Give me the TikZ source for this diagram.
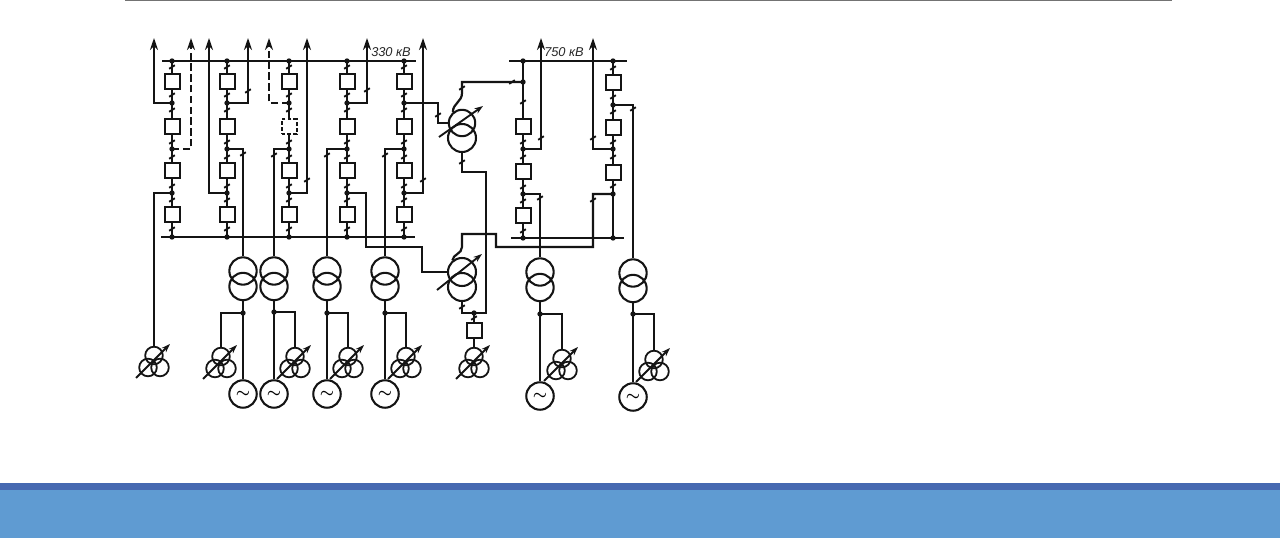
\documentclass[tikz,border=0pt]{standalone}
\usepackage{fontspec}
\setmainfont{Liberation Sans}
\usetikzlibrary{arrows.meta,backgrounds}
\definecolor{bandDark}{HTML}{4669B1}
\definecolor{bandLight}{HTML}{5F9BD2}
\tikzset{
  wire/.style={line width=1.65pt,black!92,line join=miter},
  bus/.style={line width=2.2pt,black!92},
  feeder/.style={wire,-{Stealth[length=9pt,width=6pt]}},
  dashfeeder/.style={feeder,dash pattern=on 5.5pt off 2.6pt},
  swbox/.style={draw=black!92,line width=1.5pt,fill=white,minimum size=11.25pt,inner sep=0pt},
  dashbox/.style={swbox,dash pattern=on 2.8pt off 1.6pt},
  winding/.style={circle,draw=black!92,line width=1.55pt,minimum size=20.5pt,inner sep=0pt},
  smallwinding/.style={circle,draw=black!92,line width=1.35pt,minimum size=13.2pt,inner sep=0pt},
  genr/.style={circle,draw=black!92,line width=1.55pt,fill=white,minimum size=20.6pt,inner sep=0pt,font=\large\boldmath},
  dot/.style={circle,fill=black!92,minimum size=4pt,inner sep=0pt},
  tickline/.style={line width=1.4pt,black!92},
  reg/.style={line width=1.4pt,black!92,-{Stealth[length=6.5pt,width=4.5pt]}},
  voltage/.style={font=\itshape\fontsize{9.6}{11}\selectfont,inner sep=0pt,text=black!85},
}
\newcommand{\mytick}[2]{\draw[tickline] (#1-2.8,#2+1.8) -- (#1+2.8,#2-1.8);}
\newcommand{\mythree}[3]{% name, cx, top
  \node[smallwinding] (#1t) at (#2,#3+8.5) {};
  \node[smallwinding] (#1l) at (#2-6,#3+20.5) {};
  \node[smallwinding] (#1r) at (#2+6,#3+20.5) {};
  \draw[reg] (#2-18,#3+31) -- (#2+16,#3-3);
}
\newcommand{\mytwo}[3]{% name, x, shift
  \node[winding] (#1u) at (#2,271+#3) {};
  \node[winding] (#1d) at (#2,286.5+#3) {};
}
\begin{document}
\begin{tikzpicture}[x=0.75pt,y=-0.75pt]
\useasboundingbox (0,0) rectangle (1280,538);
% page furniture
\fill[white] (0,0) rectangle (1280,538);
\fill[bandLight] (0,483) rectangle (1280,538);
\fill[bandDark] (0,483) rectangle (1280,490);
\draw[line width=0.9pt,black!55] (125,0.5) -- (1172,0.5);

% busbars
\coordinate (b33L) at (162,61); \coordinate (b33R) at (416,61);
\coordinate (c33L) at (161,237); \coordinate (c33R) at (415,237);
\coordinate (b75L) at (509,61); \coordinate (b75R) at (627,61);
\coordinate (c75L) at (511,238); \coordinate (c75R) at (624,238);
\draw[bus] (b33L) -- (b33R);
\draw[bus] (c33L) -- (c33R);
\draw[bus] (b75L) -- (b75R);
\draw[bus] (c75L) -- (c75R);
\node[voltage] (t330) at (391,52) {330 кВ};
\node[voltage] (t750) at (564,52) {750 кВ};

% 330 kV bays
\foreach \n/\x in {a/172,b/227,c/289,d/347,e/404}{
  \coordinate (\n T) at (\x,61);
  \coordinate (\n B) at (\x,237);
  \coordinate (\n j1) at (\x,103);
  \coordinate (\n j2) at (\x,149);
  \coordinate (\n j3) at (\x,193);
  \node[swbox] (\n 1) at (\x,82) {};
  \node[swbox] (\n 3) at (\x,171) {};
  \node[swbox] (\n 4) at (\x,215) {};
  \draw[wire] (\n T) -- (\n 1.north) (\n 1.south) -- (\n j1) (\n j2) -- (\n 3.north)
              (\n 3.south) -- (\n j3) -- (\n 4.north) (\n 4.south) -- (\n B);
  \node[dot] at (\n T) {}; \node[dot] at (\n B) {};
  \node[dot] at (\n j1) {}; \node[dot] at (\n j2) {}; \node[dot] at (\n j3) {};
  \foreach \y in {67,95,110,142,157,186,200,229}{\mytick{\x}{\y}}
}
\foreach \n/\x in {a/172,b/227,d/347,e/404}{
  \node[swbox] (\n 2) at (\x,127) {};
  \draw[wire] (\n j1) -- (\n 2.north) (\n 2.south) -- (\n j2);
}
\node[dashbox] (c2) at (289,127) {};
\draw[wire] (cj1) -- (c2.north) (c2.south) -- (cj2);

% outgoing 330 kV lines
\foreach \n/\x in {u1/154,u2/191,u3/209,u4/248,u5/269,u6/307,u7/367,u8/423}{\coordinate (\n) at (\x,38);}
\draw[feeder] (aj1) -| (u1);
\draw[dashfeeder] (aj2) -| (u2);
\draw[feeder] (bj3) -| (u3);
\draw[feeder] (bj1) -| (u4);
\draw[dashfeeder] (cj1) -| (u5);
\draw[feeder] (cj3) -| (u6);
\draw[feeder] (dj1) -| (u7);
\draw[feeder] (ej3) -| (u8);
\mytick{248}{91}\mytick{367}{90}\mytick{307}{180}\mytick{423}{180}

% 750 kV bays
\coordinate (fT) at (523,61); \coordinate (fB) at (523,238);
\coordinate (fj0) at (523,82); \coordinate (fj2) at (523,149); \coordinate (fj3) at (523,194);
\node[swbox] (f2) at (523,127) {};
\node[swbox] (f3) at (523,172) {};
\node[swbox] (f4) at (523,216) {};
\draw[wire] (fT) -- (f2.north) (f2.south) -- (f3.north) (f3.south) -- (f4.north) (f4.south) -- (fB);
\foreach \p in {fT,fB,fj0,fj2,fj3}{\node[dot] at (\p) {};}
\foreach \y in {102,142,157,187,201,231}{\mytick{523}{\y}}
\coordinate (gT) at (613,61); \coordinate (gB) at (613,238);
\coordinate (gj1) at (613,105); \coordinate (gj2) at (613,149); \coordinate (gj3) at (613,194);
\node[swbox] (g1) at (613,83) {};
\node[swbox] (g2) at (613,128) {};
\node[swbox] (g3) at (613,173) {};
\draw[wire] (gT) -- (g1.north) (g1.south) -- (g2.north) (g2.south) -- (g3.north) (g3.south) -- (gB);
\foreach \p in {gT,gB,gj1,gj2,gj3}{\node[dot] at (\p) {};}
\foreach \y in {68,97,112,142,157,186}{\mytick{613}{\y}}
\coordinate (v1) at (541,38); \coordinate (v2) at (593,38);
\draw[feeder] (fj2) -| (v1);
\draw[feeder] (gj2) -| (v2);
\mytick{541}{138}\mytick{593}{138}

% generator step-up units
\mytwo{p}{243}{0}\mytwo{q}{274}{0}\mytwo{r}{327}{0}\mytwo{s}{385}{0}\mytwo{w}{540}{1}\mytwo{z}{633}{2}
\foreach \n/\x/\y/\hx/\gy/\tp in {p/243/313/221/394/348,q/274/312/295/394/348,r/327/313/348/394/348,s/385/313/406/394/348,w/540/314/562/396/350,z/633/314/654/397/351}{
  \coordinate (\n j) at (\x,\y);
  \node[genr] (\n g) at (\x,\gy) {$\sim$};
  \mythree{\n h}{\hx}{\tp}
  \draw[wire] (\n d.south) -- (\n j) -- (\n g.north);
  \draw[wire] (\n j) -| (\n ht.north);
  \node[dot] at (\n j) {};
}
\draw[wire] (bj2) -| (pu.north);
\draw[wire] (cj2) -| (qu.north);
\draw[wire] (dj2) -| (ru.north);
\draw[wire] (ej2) -| (su.north);
\draw[wire] (fj3) -| (wu.north);
\draw[wire] (gj1) -| (zu.north);
\mytick{243}{154}\mytick{274}{155}\mytick{327}{155}\mytick{385}{155}
\mytick{540}{198}\mytick{633}{109}\mytick{593}{200}

% bay a to its tertiary unit
\mythree{k}{154}{347}
\draw[wire] (aj3) -| (kt.north);

% autotransformers
\node[winding,minimum size=19.8pt] (ta) at (462,123) {};
\node[winding,minimum size=21pt] (tb) at (462,138) {};
\draw[reg] (439,137) -- (483,106);
\node[winding,minimum size=21pt] (la) at (462,272) {};
\node[winding,minimum size=21pt] (lb) at (462,287) {};
\draw[reg] (437,290) -- (482,254);
% upper unit, connections
\coordinate (m1) at (438,103); \coordinate (m2) at (438,123);
\draw[wire] (ej1) -- (m1) -- (m2) -- (ta.west);
\draw[wire] (ta.130) .. controls (453,103) and (462,102) .. (462,93) |- (fj0);
\mytick{438}{115}\mytick{462}{88}\mytick{512}{82}
% lower unit, connections
\coordinate (n1) at (366,247); \coordinate (n2) at (422,247); \coordinate (n3) at (422,272);
\draw[wire] (dj3) -| (n1) -- (n2) -- (n3) -- (la.west);
\coordinate (o1) at (593,247); \coordinate (o2) at (496,247); \coordinate (o3) at (496,234); \coordinate (o4) at (462,234);
\draw[wire] (gj3) -| (o1) -- (o2) -- (o3) -- (o4) -- (462,247) .. controls (462,254) and (453,254) .. (la.130);
% tie between the two units
\coordinate (y1) at (462,172); \coordinate (y2) at (486,172); \coordinate (y3) at (486,313); \coordinate (y4) at (462,313); \coordinate (yj) at (474,313);
\draw[wire] (tb.south) -- (y1) -- (y2) -- (y3) -- (y4) -- (lb.south);
\mytick{462}{162}\mytick{462}{307}\mytick{474}{318}
\node[swbox] (x) at (474,330) {};
\mythree{xh}{474}{348}
\draw[wire] (yj) -- (x.north) (x.south) -- (xht.north);
\node[dot] at (yj) {};
\end{tikzpicture}
\end{document}
